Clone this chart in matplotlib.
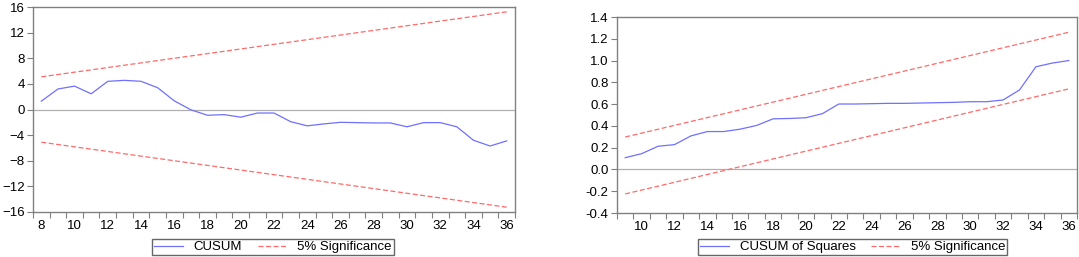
import matplotlib
matplotlib.use('Agg')
import matplotlib.pyplot as plt
import numpy as np

plt.rcParams['font.family'] = ['Liberation Sans', 'DejaVu Sans']

# CUSUM test (left panel)
cusum_t = list(range(8, 37))
cusum = [1.3, 3.2, 3.65, 2.45, 4.4, 4.55, 4.4, 3.4, 1.35, -0.05,
         -0.9, -0.8, -1.2, -0.55, -0.55, -1.9, -2.55, -2.25, -2.0, -2.05,
         -2.1, -2.1, -2.7, -2.05, -2.05, -2.7, -4.8, -5.7, -4.9]
cusum_band_t = [8, 36]
cusum_upper = [5.1, 15.25]
cusum_lower = [-5.1, -15.25]

# CUSUM of squares test (right panel)
sq_t = list(range(9, 37))
cusum_sq = [0.108, 0.145, 0.213, 0.228, 0.308, 0.348, 0.348, 0.37, 0.404, 0.465,
            0.468, 0.475, 0.512, 0.601, 0.601, 0.604, 0.607, 0.607, 0.61, 0.613,
            0.616, 0.622, 0.622, 0.638, 0.73, 0.943, 0.977, 1.0]
sq_band_t = [9, 36]
sq_upper = [0.298, 1.26]
sq_lower = [-0.225, 0.74]

blue = '#7070ff'
red = '#ff6a6a'
grey = '#808080'
W, H = 1079, 257

fig = plt.figure(figsize=(W / 100, H / 100), dpi=100)


def style(ax, xlim, xlabels):
    ax.set_xlim(*xlim)
    for s in ax.spines.values():
        s.set_color(grey)
        s.set_linewidth(1.0)
    ax.axhline(0, color='#b0b0b0', lw=0.9, zorder=1)
    # tick marks between observations, labels on even years
    ax.set_xticks(np.arange(xlim[0], xlim[1] + 0.01, 1.0))
    ax.set_xticklabels([])
    ax.set_xticks(xlabels, minor=True)
    ax.set_xticklabels([str(v) for v in xlabels], minor=True)
    ax.tick_params(axis='x', which='major', length=4, color=grey, direction='out')
    ax.tick_params(axis='x', which='minor', length=0, pad=6, labelsize=9.5)
    ax.tick_params(axis='y', length=4, color=grey, direction='out', labelsize=9.5, pad=2)


def add_legend(ax, x0):
    fig.legend(*ax.get_legend_handles_labels(), loc='upper left',
               bbox_to_anchor=(x0 / W, 1 - 239 / H), ncol=2, fontsize=9.5,
               frameon=True, fancybox=False, edgecolor='#404040', handlelength=2.2,
               handletextpad=0.8, columnspacing=1.2, borderpad=0.15, borderaxespad=0)


# left panel
ax1 = fig.add_axes([33 / W, 1 - 212 / H, 482 / W, 205 / H])
ax1.plot(cusum_t, cusum, color=blue, lw=0.9, label='CUSUM', zorder=3)
ax1.plot(cusum_band_t, cusum_upper, color=red, lw=0.9, ls=(0, (4, 2)), label='5% Significance')
ax1.plot(cusum_band_t, cusum_lower, color=red, lw=0.9, ls=(0, (4, 2)))
ax1.set_ylim(-16, 16)
ax1.set_yticks(np.arange(-16, 17, 4))
style(ax1, (7.5, 36.5), list(range(8, 37, 2)))
add_legend(ax1, 152)

# right panel
ax2 = fig.add_axes([617 / W, 1 - 213 / H, 460 / W, 196 / H])
ax2.plot(sq_t, cusum_sq, color=blue, lw=0.9, label='CUSUM of Squares', zorder=3)
ax2.plot(sq_band_t, sq_upper, color=red, lw=0.9, ls=(0, (4, 2)), label='5% Significance')
ax2.plot(sq_band_t, sq_lower, color=red, lw=0.9, ls=(0, (4, 2)))
ax2.set_ylim(-0.4, 1.4)
ax2.set_yticks(np.arange(-0.4, 1.41, 0.2))
ax2.set_yticklabels(['%.1f' % v for v in np.arange(-0.4, 1.41, 0.2)])
style(ax2, (8.5, 36.5), list(range(10, 37, 2)))
add_legend(ax2, 698)

fig.savefig('out.png', dpi=100)
